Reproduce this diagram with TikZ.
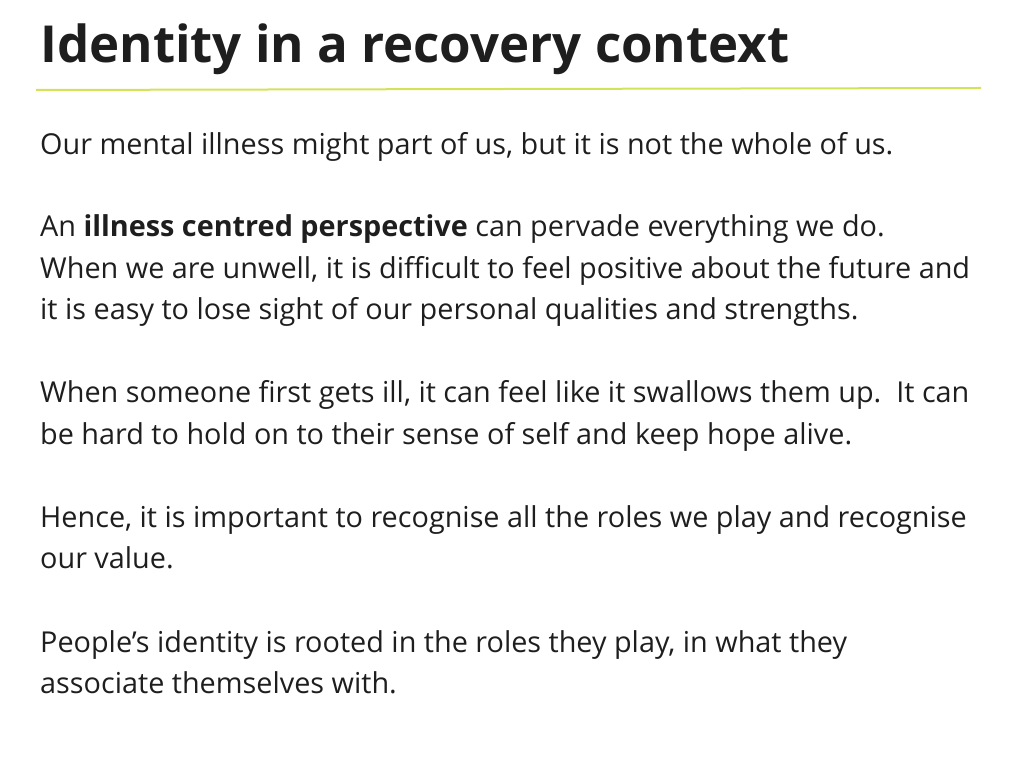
\documentclass[tikz,border=0pt]{standalone}
\usepackage{fontspec}
\setmainfont{Open Sans}
\definecolor{rulegreen}{RGB}{212,226,90}
\definecolor{bodytext}{RGB}{30,30,30}
\tikzset{
  line/.style={anchor=base west, inner sep=0pt, text=bodytext, font=\fontsize{28.8}{34}\selectfont},
  titletext/.style={anchor=base west, inner sep=0pt, text=bodytext, font=\fontsize{51}{58}\selectfont\bfseries}
}
\begin{document}
\begin{tikzpicture}[x=1pt,y=1pt]
    \useasboundingbox (0,0) rectangle (1024,768);

    % title and rule
    \node[titletext] (title) at (40,768-63) {Identity in a recovery context};
    \coordinate (ruleL) at (36,768-90);
    \coordinate (ruleR) at (981,768-88);
    \draw[rulegreen, line width=2pt] (ruleL) -- (ruleR);

    % body lines
    \node[line] (l1) at (40,768-155) {Our mental illness might part of us, but it is not the whole of us.};
    \node[line] (l2) at (40,768-237) {An \textbf{illness centred perspective} can pervade everything we do.};
    \node[line] (l3) at (40,768-279) {When we are unwell, it is difficult to feel positive about the future and};
    \node[line] (l4) at (40,768-320) {it is easy to lose sight of our personal qualities and strengths.};
    \node[line] (l5) at (40,768-403) {When someone first gets ill, it can feel like it swallows them up.\ \ It can};
    \node[line] (l6) at (40,768-445) {be hard to hold on to their sense of self and keep hope alive.};
    \node[line] (l7) at (40,768-528) {Hence, it is important to recognise all the roles we play and recognise};
    \node[line] (l8) at (40,768-569) {our value.};
    \node[line] (l9) at (40,768-652) {People’s identity is rooted in the roles they play, in what they};
    \node[line] (l10) at (40,768-693) {associate themselves with.};

\end{tikzpicture}
\end{document}
